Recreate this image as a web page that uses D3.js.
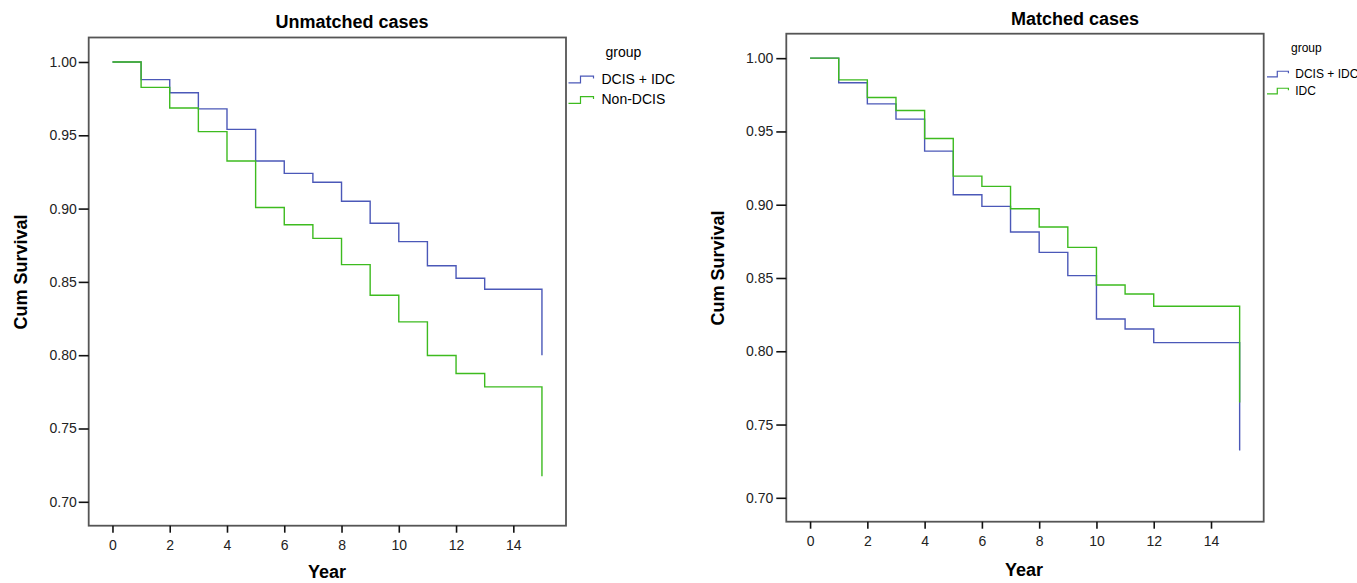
<!DOCTYPE html>
<html>
<head>
<meta charset="utf-8">
<script src="https://cdn.jsdelivr.net/npm/d3@7"></script>
<style>
  body { margin: 0; background: #fff; }
  svg { font-family: "Liberation Sans", Arial, sans-serif; }
  .tick text { fill: #222; }
</style>
</head>
<body>
<svg width="1357" height="583"></svg>
<script>
// Kaplan-Meier step values
const unmatchedYears = [0, 1, 2, 3, 4, 5, 6, 7, 8, 9, 10, 11, 12, 13, 15];
const unmatchedDcisIdc = [1.000, 0.988, 0.979, 0.968, 0.954, 0.9325, 0.924, 0.918, 0.905, 0.890, 0.8775, 0.861, 0.8525, 0.845, 0.800];
const unmatchedNonDcis = [1.000, 0.9827, 0.9686, 0.9525, 0.9325, 0.9007, 0.889, 0.8797, 0.8618, 0.8409, 0.8227, 0.7998, 0.7875, 0.7784, 0.7175];

const matchedYears = [0, 1, 2, 3, 4, 5, 6, 7, 8, 9, 10, 11, 12, 15];
const matchedDcisIdc = [1.000, 0.9832, 0.9688, 0.9584, 0.9366, 0.9068, 0.8989, 0.8814, 0.8675, 0.8516, 0.822, 0.8152, 0.8059, 0.7323];
const matchedIdc = [1.000, 0.9852, 0.9732, 0.9643, 0.9452, 0.9195, 0.9125, 0.8973, 0.8848, 0.8709, 0.8452, 0.8391, 0.8307, 0.765];

const yTicks = [0.70, 0.75, 0.80, 0.85, 0.90, 0.95, 1.00];
const xTicks = [0, 2, 4, 6, 8, 10, 12, 14];

const blue = "#4b58b8",
  green = "#3dbb1f";

const svg = d3.select("svg");

// one panel = frame + axes + two step lines + legend
function drawPanel(p) {
  const x = d3.scaleLinear().domain([-0.83, 15.84]).range([p.left, p.right]);
  const y = d3.scaleLinear().domain([0.6837, 1.0167]).range([p.bottom, p.top]);
  const g = svg.append("g");

  g.append("rect")
    .attr("x", p.left).attr("y", p.top)
    .attr("width", p.right - p.left).attr("height", p.bottom - p.top)
    .attr("fill", "none").attr("stroke", "#555").attr("stroke-width", 1.8);

  const yAxis = g.append("g")
    .attr("transform", "translate(" + p.left + ",0)")
    .call(d3.axisLeft(y).tickValues(yTicks).tickFormat(d3.format(".2f")).tickSize(10).tickPadding(p.yPad));
  const xAxis = g.append("g")
    .attr("transform", "translate(0," + p.bottom + ")")
    .call(d3.axisBottom(x).tickValues(xTicks).tickSize(7).tickPadding(p.xPad));
  [yAxis, xAxis].forEach(a => {
    a.select(".domain").remove();
    a.selectAll(".tick line").attr("stroke", "#111").attr("stroke-width", 1.6);
    a.selectAll(".tick text").style("font-size", p.tickFont + "px")
      .style("font-family", "Liberation Sans, Arial, sans-serif");
  });

  const line = d3.line()
    .x((d, i) => x(p.years[i]))
    .y(d => y(d))
    .curve(d3.curveStepAfter);

  p.series.forEach(s => {
    g.append("path")
      .attr("d", line(s.values))
      .attr("fill", "none")
      .attr("stroke", s.color)
      .attr("stroke-width", 1.4);
  });

  // titles
  g.append("text")
    .attr("x", p.titleX).attr("y", p.titleY)
    .attr("text-anchor", "middle")
    .style("font-size", "18px").style("font-weight", "bold")
    .text(p.title);
  g.append("text")
    .attr("transform", "translate(" + p.yLabelX + "," + p.yLabelY + ") rotate(-90)")
    .attr("text-anchor", "middle")
    .style("font-size", "18px").style("font-weight", "bold")
    .text("Cum Survival");
  g.append("text")
    .attr("x", p.xLabelX).attr("y", p.xLabelY)
    .attr("text-anchor", "middle")
    .style("font-size", "18px").style("font-weight", "bold")
    .text("Year");

  // legend
  const lg = p.legend;
  g.append("text")
    .attr("x", lg.x + lg.groupDx).attr("y", lg.groupY)
    .style("font-size", lg.font + "px")
    .text("group");
  p.series.forEach((s, i) => {
    const by = lg.y0 + i * lg.step;
    const k = lg.font / 14;
    const pts = [
      [lg.x, by - 0.7 * k], [lg.x + 12 * k, by - 0.7 * k], [lg.x + 12 * k, by - 7.3 * k],
      [lg.x + 25 * k, by - 7.3 * k], [lg.x + 25 * k, by - 5 * k]
    ];
    g.append("path")
      .attr("d", d3.line()(pts))
      .attr("fill", "none").attr("stroke", s.color).attr("stroke-width", 1.2);
    g.append("text")
      .attr("x", lg.x + 33 * k).attr("y", by)
      .style("font-size", lg.font + "px")
      .text(s.name);
  });
}

drawPanel({
  left: 88.7, right: 566, top: 37.5, bottom: 525.7,
  yPad: 2, xPad: 7.4, tickFont: 14,
  years: unmatchedYears,
  series: [
    { name: "DCIS + IDC", values: unmatchedDcisIdc, color: blue },
    { name: "Non-DCIS", values: unmatchedNonDcis, color: green }
  ],
  title: "Unmatched cases", titleX: 352, titleY: 28,
  yLabelX: 27, yLabelY: 272,
  xLabelX: 327, xLabelY: 578,
  legend: { x: 568.5, groupDx: 37, groupY: 57, y0: 83.5, step: 20.5, font: 14 }
});

drawPanel({
  left: 786.3, right: 1263.7, top: 33.7, bottom: 521.7,
  yPad: 3, xPad: 7, tickFont: 14,
  years: matchedYears,
  series: [
    { name: "DCIS + IDC", values: matchedDcisIdc, color: blue },
    { name: "IDC", values: matchedIdc, color: green }
  ],
  title: "Matched cases", titleX: 1075, titleY: 25,
  yLabelX: 724, yLabelY: 268,
  xLabelX: 1024, xLabelY: 576,
  legend: { x: 1267, groupDx: 24, groupY: 52, y0: 77.5, step: 17, font: 12 }
});
</script>
</body>
</html>
